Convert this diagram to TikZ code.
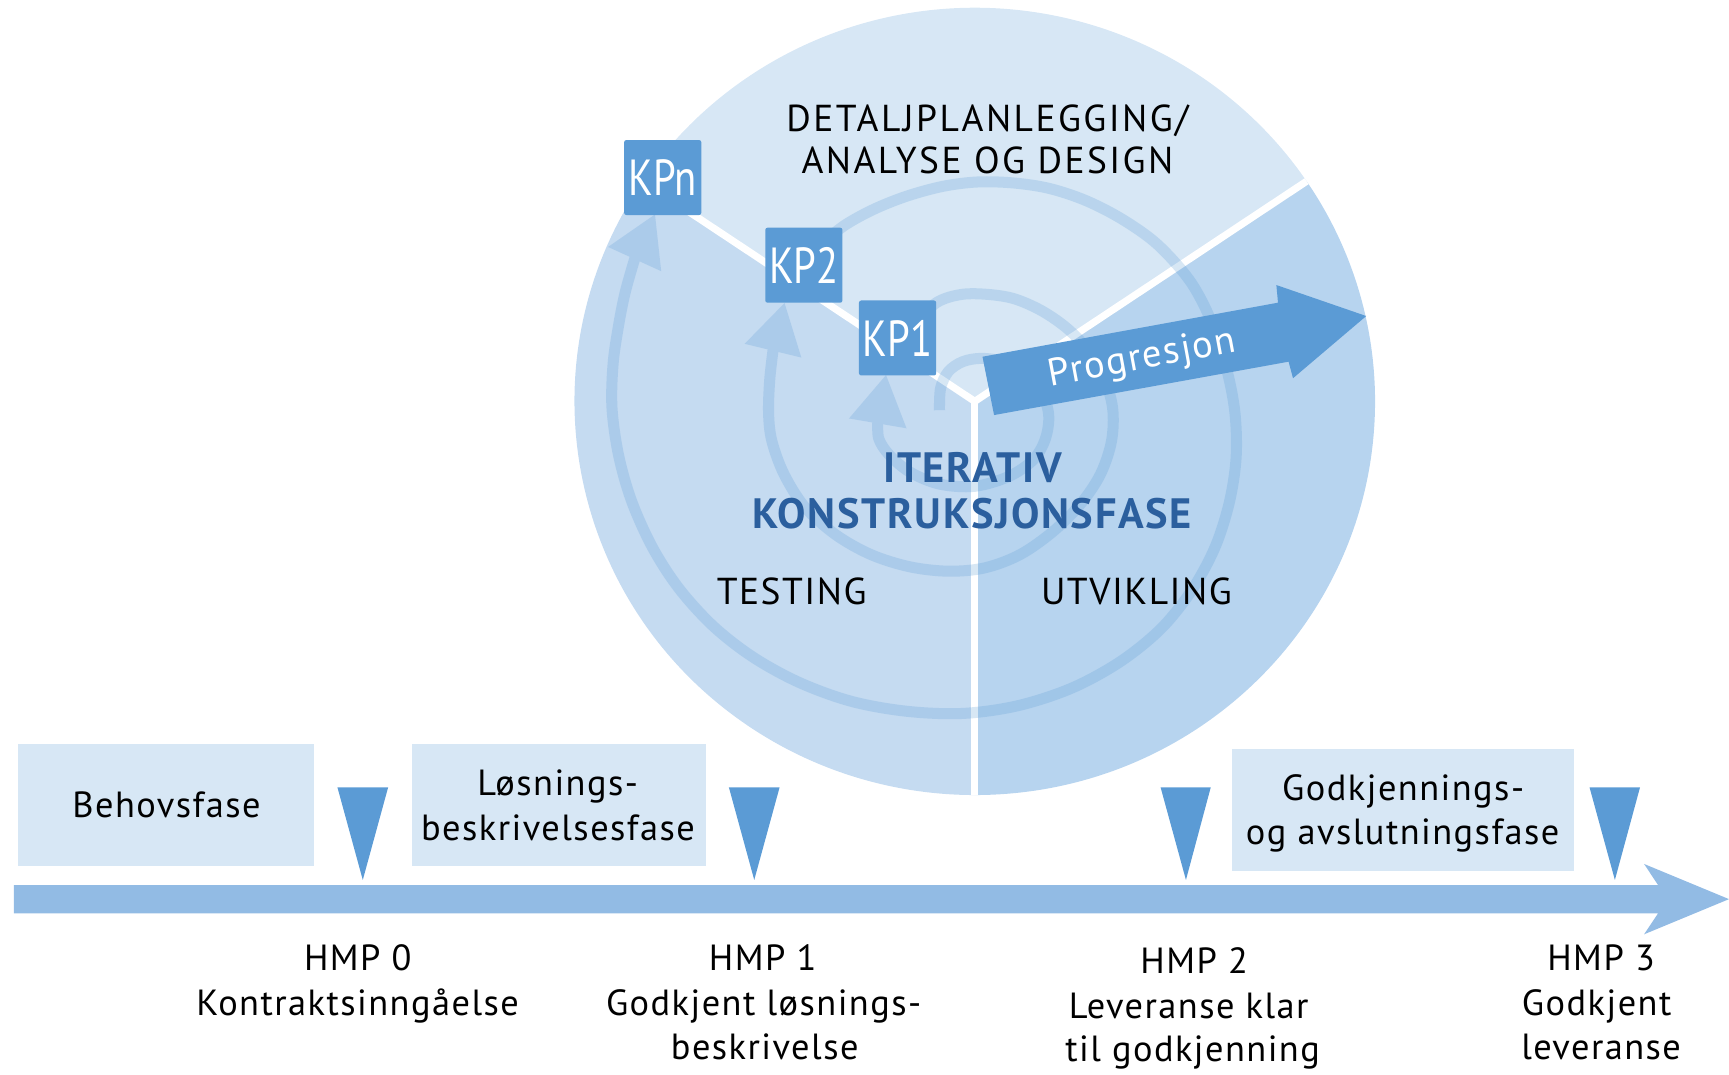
\documentclass[tikz,border=0pt]{standalone}
\usepackage{fontspec}
\setmainfont{PT Sans}[LetterSpace=4.0]
\newfontfamily\kpfont{PT Sans}
\newfontfamily\widecaps{PT Sans}[LetterSpace=6.5]
\usetikzlibrary{arrows.meta}
\definecolor{secTop}{HTML}{D7E7F5}
\definecolor{secLeft}{HTML}{C5DBF1}
\definecolor{secRight}{HTML}{B7D4EF}
\definecolor{kpblue}{HTML}{5B9BD5}
\definecolor{barblue}{HTML}{92BBE4}
\definecolor{phasefill}{HTML}{D7E7F5}
\definecolor{itblue}{HTML}{2B5F9E}
\begin{document}
\begin{tikzpicture}[x=1pt,y=-1pt,
  lbl/.style={inner sep=0pt, anchor=base, font=\fontsize{33}{40}\selectfont},
  caplbl/.style={inner sep=0pt, anchor=base, font=\fontsize{34}{40}\selectfont},
  widelbl/.style={inner sep=0pt, anchor=base, font=\widecaps\fontsize{34}{40}\selectfont},
  itlbl/.style={inner sep=0pt, anchor=base, font=\fontsize{38.5}{44}\selectfont\bfseries, text=itblue},
  kp/.style={fill=kpblue, rounded corners=2pt, minimum width=70pt, minimum height=68pt, inner sep=0pt, text=white, font=\kpfont\fontsize{46}{50}\selectfont},
  phase/.style={fill=phasefill, draw=none, inner sep=0pt},
  sepline/.style={white, line width=6.5pt},
  spiral/.style={line width=10pt, draw=kpblue, line cap=butt, -{Triangle[width=50pt,length=45pt]}},
  milestone/.style={fill=kpblue},
]
\useasboundingbox (0,0) rectangle (1568,974);

% ---- phase circle ----
\coordinate (O) at (884,364);
\fill[secTop] (O) -- ++(-34:363 and 357) arc[start angle=-34, end angle=-146, x radius=363, y radius=357] -- cycle;
\fill[secLeft] (O) -- ++(-146:363 and 357) arc[start angle=-146, end angle=-270, x radius=363, y radius=357] -- cycle;
\fill[secRight] (O) -- ++(90:363 and 357) arc[start angle=90, end angle=-34, x radius=363, y radius=357] -- cycle;
\draw[sepline] (O) -- ++(-34:363 and 357);
\draw[sepline] (O) -- ++(-146:363 and 357);
\draw[sepline] (O) -- ++(90:363 and 357);

% ---- spiral ----
\begin{scope}[transparency group, opacity=0.24]
\draw[spiral] plot[smooth, tension=0.55] coordinates {(852,372) (853,352) (860,337) (873,328) (890,325) (910,328) (930,338) (944,354) (951,376) (948,398) (937,417) (915,432) (884,441) (852,439) (825,428) (806,412) (797,398) (796,384)} -- (803.6,339.6);
\draw[spiral] plot[smooth, tension=0.55] coordinates {(830,292) (850,274) (872,267) (896,267) (920,271) (945,282) (968,298) (987,318) (1001,342) (1009,370) (1008,400) (998,430) (980,457) (955,482) (925,503) (893,515) (860,518) (825,514) (790,503) (758,485) (730,460) (711,430) (700,400) (697,375) (698,345) (701,318)} -- (711.6,274.3);
\draw[spiral] plot[smooth, tension=0.55] coordinates {(742,224) (765,205) (792,190) (822,178) (855,169) (887,165) (920,166) (952,171) (985,182) (1018,199) (1050,222) (1080,256) (1100,295) (1113,337) (1120,375) (1121,415) (1115,455) (1102,496) (1081,535) (1053,570) (1016,600) (972,624) (923,640) (873,647) (822,645) (772,636) (725,619) (683,596) (647,568) (616,534) (592,497) (573,455) (561,413) (555,370) (556,330) (561,295) (567,265) (575.5,235)} -- (594.2,194);
\end{scope}

% ---- KP boxes ----
\node[kp] (kpn) at (601,161) {\scalebox{0.8}[1]{KPn}};
\node[kp] (kp2) at (729,240.5) {\scalebox{0.8}[1]{KP2}};
\node[kp] (kp1) at (814,306.5) {\scalebox{0.8}[1]{KP1}};

% ---- Progresjon arrow ----
\fill[kpblue] (891,323.5) -- (1159,274.5) -- (1157.5,258.5) -- (1239,286.6) -- (1172.6,343) -- (1168.6,328) -- (901.5,376.4) -- cycle;
\node[inner sep=0pt, anchor=base, rotate=10.5, text=white, font=\fontsize{35}{40}\selectfont] (prog) at (1037.5,334.5) {Progresjon};

% ---- circle texts ----
\node[widelbl] (detalj1) at (895.5,119) {DETALJPLANLEGGING/};
\node[widelbl] (detalj2) at (895.5,157) {ANALYSE OG DESIGN};
\node[itlbl] (iter1) at (882,438) {ITERATIV};
\node[itlbl] (iter2) at (881.5,479) {KONSTRUKSJONSFASE};
\node[caplbl] (testing) at (718,548.6) {TESTING};
\node[caplbl] (utvikling) at (1030.6,548.6) {UTVIKLING};

% ---- timeline ----
\fill[barblue] (12.6,802.6) -- (1503.6,802.6) -- (1491,783.5) -- (1568,815.4) -- (1491,847.3) -- (1503.6,828.3) -- (12.6,828.3) -- cycle;

% ---- phase boxes ----
\node[phase, minimum width=267.7pt, minimum height=110.7pt] (behovbox) at (150.5,730) {};
\node[phase, minimum width=267.2pt, minimum height=110.7pt] (losnbox) at (507,730) {};
\node[phase, minimum width=309.7pt, minimum height=110.1pt] (godkbox) at (1272.5,734.5) {};

\node[lbl] (behov) at (151,741) {Behovsfase};
\node[lbl] (losn1) at (505.7,721) {Løsnings-};
\node[lbl] (losn2) at (506,762) {beskrivelsesfase};
\node[lbl] (godk1) at (1272.5,725.5) {Godkjennings-};
\node[lbl] (godk2) at (1272,766) {og avslutningsfase};

% ---- milestones ----
\fill[milestone] (306,714) -- (352,714) -- (329,798) -- cycle;
\fill[milestone] (661,714) -- (707,714) -- (684,798) -- cycle;
\fill[milestone] (1052.5,714) -- (1098,714) -- (1075.5,798) -- cycle;
\fill[milestone] (1441.5,714) -- (1487.3,714) -- (1464.5,798) -- cycle;

\node[lbl] (hmp0a) at (324.5,880) {HMP 0};
\node[lbl] (hmp0b) at (324.3,920.5) {Kontraktsinngåelse};
\node[lbl] (hmp1a) at (691.7,880) {HMP 1};
\node[lbl] (hmp1b) at (692.5,920.5) {Godkjent løsnings-};
\node[lbl] (hmp1c) at (693.5,961) {beskrivelse};
\node[lbl] (hmp2a) at (1083,882.6) {HMP 2};
\node[lbl] (hmp2b) at (1078,923.4) {Leveranse klar};
\node[lbl] (hmp2c) at (1081.5,963) {til godkjenning};
\node[lbl] (hmp3a) at (1452,880) {HMP 3};
\node[lbl] (hmp3b) at (1448,920.5) {Godkjent};
\node[lbl] (hmp3c) at (1452,961) {leveranse};
\end{tikzpicture}
\end{document}
